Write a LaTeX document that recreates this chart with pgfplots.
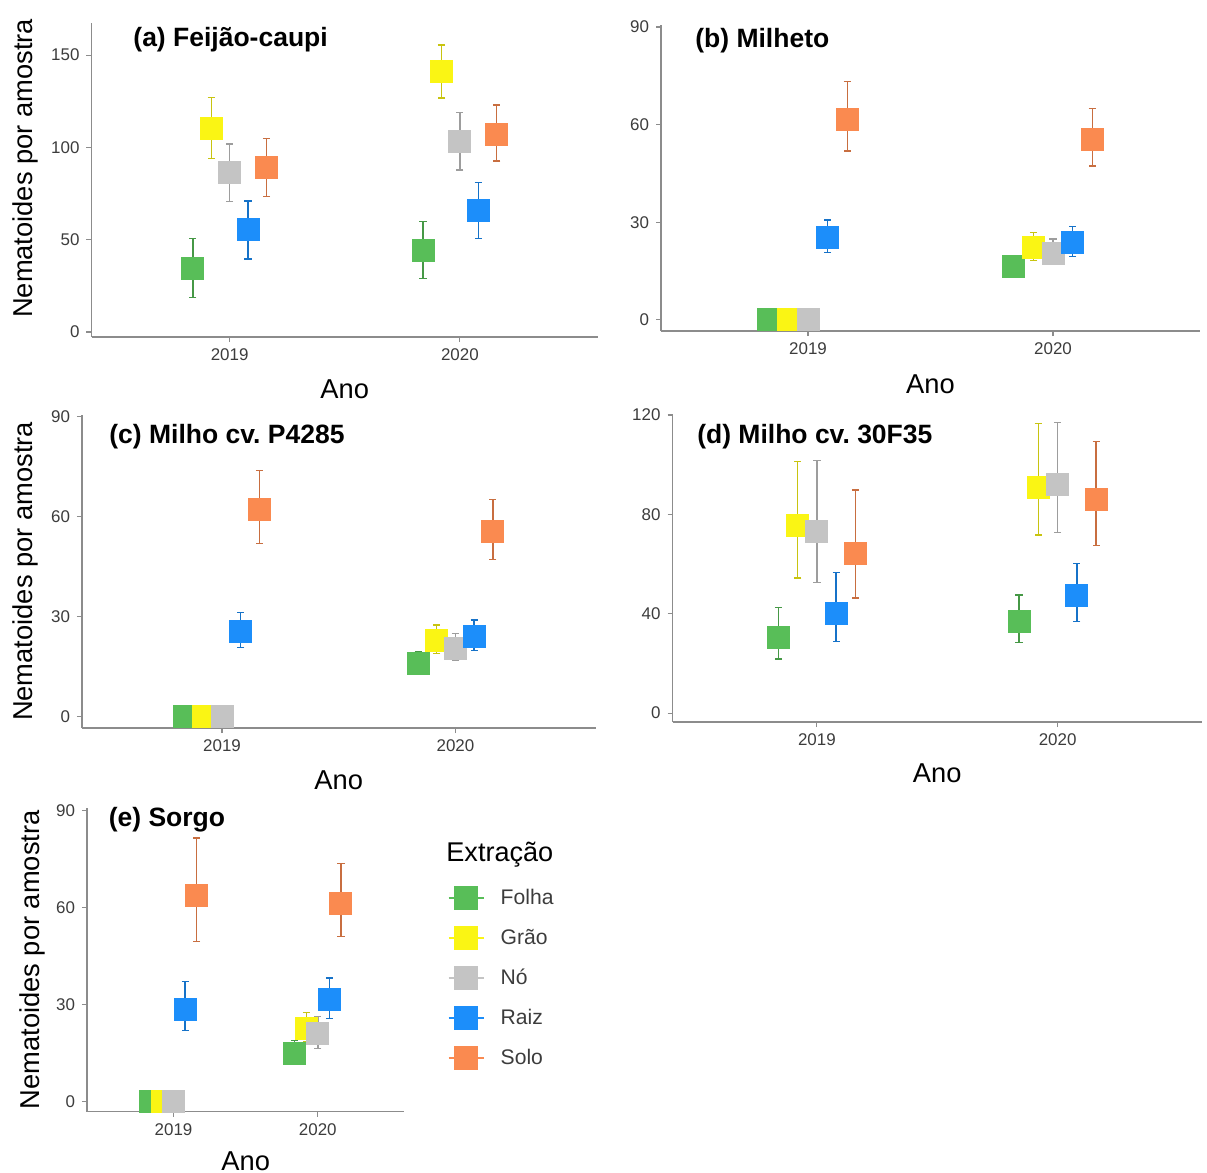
\documentclass[border=0pt]{standalone}
\usepackage{fontspec}
\setmainfont{Liberation Sans}
\usepackage{pgfplots}
\usepackage{pgfplotstable}
\pgfplotsset{compat=1.18}

\definecolor{cF}{RGB}{88,190,88}
\definecolor{cG}{RGB}{250,245,20}
\definecolor{cN}{RGB}{196,196,196}
\definecolor{cR}{RGB}{28,142,250}
\definecolor{cS}{RGB}{250,138,80}
\definecolor{axgray}{RGB}{140,140,140}
\definecolor{tickgray}{RGB}{60,60,60}

% panel (a) Feijao-caupi
\pgfplotstableread{
yr F Flo Fhi G Glo Ghi N Nlo Nhi R Rlo Rhi S Slo Shi
1 34.5 18.6 50.7 110.5 94 127 86.3 70.6 101.8 55.3 39.5 71 89 73.3 104.9
2 44.4 29.1 59.8 141 126.8 155.5 103.1 87.8 119 65.7 50.7 80.9 107.1 92.6 123
}\tA
% panel (b) Milheto
\pgfplotstableread{
yr F Flo Fhi G Glo Ghi N Nlo Nhi R Rlo Rhi S Slo Shi
1 0 0 0 0 0 0 0 0 0 25.2 20.7 30.7 61.5 51.9 73.2
2 16.3 13.0 19.1 22.4 18.3 26.9 20.3 17.3 24.9 23.7 19.5 28.7 55.4 47.3 64.9
}\tB
% panel (c) Milho cv. P4285
\pgfplotstableread{
yr F Flo Fhi G Glo Ghi N Nlo Nhi R Rlo Rhi S Slo Shi
1 0 0 0 0 0 0 0 0 0 25.5 20.8 31.2 62 52 73.8
2 16 12.8 19.5 23 19 27.5 20.5 17 25 24 19.8 29 55.5 47.2 65.2
}\tC
% panel (d) Milho cv. 30F35
\pgfplotstableread{
yr F Flo Fhi G Glo Ghi N Nlo Nhi R Rlo Rhi S Slo Shi
1 30.6 21.7 42.6 75.7 54.3 101.2 73.3 52.5 101.6 40.2 28.8 56.6 64.4 46.3 89.8
2 36.8 28.4 47.6 91 71.7 116.6 92 72.6 116.9 47.2 36.8 60.3 86.1 67.4 109.3
}\tD
% panel (e) Sorgo
\pgfplotstableread{
yr F Flo Fhi G Glo Ghi N Nlo Nhi R Rlo Rhi S Slo Shi
1 0 0 0 0 0 0 0 0 0 28.4 22 37.1 63.6 49.5 81.5
2 15 11.9 18.9 22.7 18.6 27.5 21.2 16.5 26.3 31.5 25.8 38.2 61.4 51 73.7
}\tE

\pgfplotsset{
  panel/.style={
    scale only axis, clip=false,
    axis lines*=left,
    axis line style={axgray, line width=0.55bp},
    tick style={axgray, line width=0.55bp},
    tick align=outside, major tick length=2.5bp,
    xmin=0.4, xmax=2.6, xtick={1,2}, xticklabels={2019,2020},
    tick label style={font=\fontsize{8.5}{10}\selectfont, text=tickgray},
    /pgf/number format/assume math mode=true,
    xlabel={Ano},
    label style={font=\fontsize{13.7}{16}\selectfont, text=black},
    anchor=south west,
  },
  ser/.style={only marks, mark=square*, mark size=5.5bp, color=#1,
    mark options={draw=#1, fill=#1, line width=0pt},
    error bars/y dir=both, error bars/y explicit,
    error bars/error bar style={color=#1!80!black, line width=0.7bp},
    error bars/error mark options={rotate=90, color=#1!80!black, line width=0.7bp, mark size=1.8bp}},
}
\newcommand{\series}[4]{\addplot[ser=#3, forget plot] table[x expr=\thisrow{yr}+#4, y=#2,
  y error plus expr=\thisrow{#2hi}-\thisrow{#2},
  y error minus expr=\thisrow{#2}-\thisrow{#2lo}] {#1};}
\newcommand{\allseries}[1]{%
  \series{#1}{F}{cF}{-0.16}
  \series{#1}{G}{cG}{-0.08}
  \series{#1}{N}{cN}{0}
  \series{#1}{R}{cR}{0.08}
  \series{#1}{S}{cS}{0.16}}
\newcommand{\legkey}[1]{\addlegendimage{legend image code/.code={%
  \path[draw=none, fill=none] (0bp,0bp) -- (26bp,0bp);
  \draw[#1, line width=0.7bp] (0bp,0bp) -- (17.5bp,0bp);
  \fill[#1] (3bp,-5.75bp) rectangle (14.5bp,5.75bp);}}}
\tikzset{ptitle/.style={anchor=west, inner sep=0pt, font=\bfseries\fontsize{13.3}{15}\selectfont}}

\begin{document}
\frenchspacing
\begin{tikzpicture}
\useasboundingbox (0,0) rectangle (603.5bp,-586.5bp);

% (a)
\begin{axis}[panel, at={(45.75bp,-168.5bp)}, width=253.25bp, height=157bp,
  ymin=-2.7, ymax=167.4, ytick={0,50,100,150},
  ylabel={Nematoides por amostra},
  ylabel style={at={(axis description cs:-0.1313,0.537)}, anchor=center},
  xlabel style={at={(axis description cs:0.5,-0.1656)}, anchor=center}]
\allseries{\tA}
\node[ptitle] at (rel axis cs:0.082,0.9455) {(a) Feijão-caupi};
\end{axis}

% (b)
\begin{axis}[panel, at={(330.5bp,-165.5bp)}, width=269.5bp, height=153bp,
  ymin=-3.4, ymax=90.6, ytick={0,30,60,90},
  xlabel style={at={(axis description cs:0.5,-0.173)}, anchor=center}]
\allseries{\tB}
\node[ptitle] at (rel axis cs:0.063,0.948) {(b) Milheto};
\end{axis}

% (c)
\begin{axis}[panel, at={(41bp,-364bp)}, width=256.75bp, height=156.5bp,
  ymin=-3.4, ymax=90.5, ytick={0,30,60,90},
  ylabel={Nematoides por amostra},
  ylabel style={at={(axis description cs:-0.111,0.5)}, anchor=center},
  xlabel style={at={(axis description cs:0.5,-0.166)}, anchor=center}]
\allseries{\tC}
\node[ptitle] at (rel axis cs:0.0526,0.93) {(c) Milho cv. P4285};
\end{axis}

% (d)
\begin{axis}[panel, at={(336.25bp,-361bp)}, width=264.75bp, height=153.5bp,
  ymin=-3.6, ymax=120, ytick={0,40,80,120},
  xlabel style={at={(axis description cs:0.5,-0.166)}, anchor=center}]
\allseries{\tD}
\node[ptitle] at (rel axis cs:0.046,0.928) {(d) Milho cv. 30F35};
\end{axis}

% (e)
\begin{axis}[panel, at={(43.5bp,-555.85bp)}, width=158.7bp, height=151.85bp,
  ymin=-3.1, ymax=90.8, ytick={0,30,60,90},
  ylabel={Nematoides por amostra},
  ylabel style={at={(axis description cs:-0.172,0.5)}, anchor=center},
  xlabel style={at={(axis description cs:0.5,-0.197)}, anchor=south, inner sep=0.3bp},
  legend cell align=left,
  legend style={at={(axis description cs:1.1374,0.7695)}, anchor=north west,
    draw=none, fill=none, inner sep=0pt, outer sep=0pt, row sep=0pt,
    nodes={inner sep=0pt, minimum height=20bp},
    font=\fontsize{10.6}{12}\selectfont, text=tickgray}]
\allseries{\tE}
\legkey{cF}\addlegendentry{Folha}
\legkey{cG}\addlegendentry{Grão}
\legkey{cN}\addlegendentry{Nó}
\legkey{cR}\addlegendentry{Raiz}
\legkey{cS}\addlegendentry{Solo}
\node[ptitle, font=\fontsize{13.6}{16}\selectfont] at (rel axis cs:1.131,0.8452) {Extração};
\node[ptitle] at (rel axis cs:0.0675,0.961) {(e) Sorgo};
\end{axis}
\end{tikzpicture}
\end{document}
